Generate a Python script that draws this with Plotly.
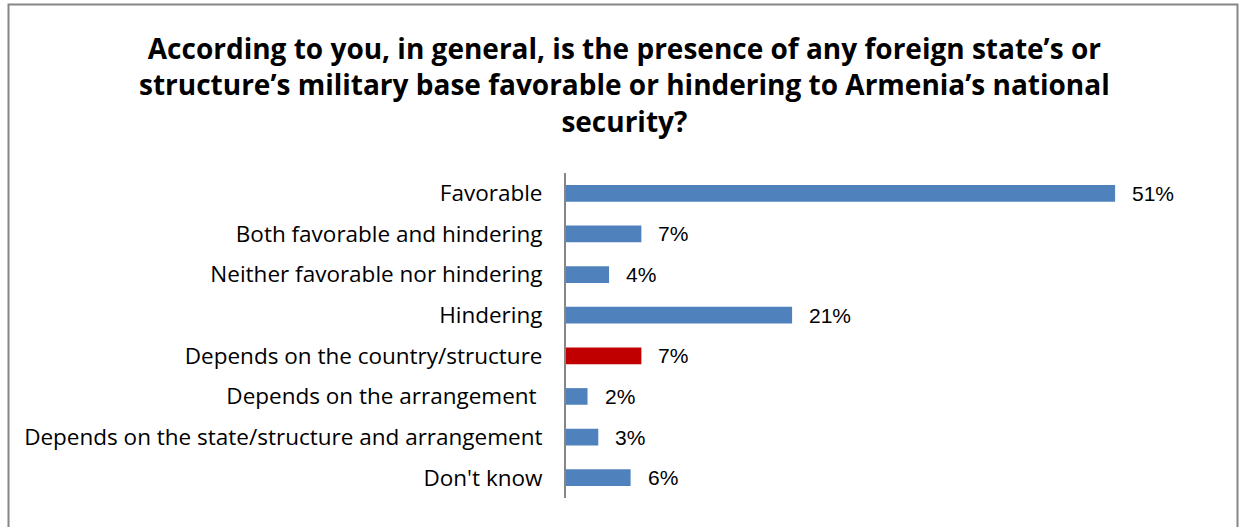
import plotly.graph_objects as go

# Survey answers, top to bottom as listed
categories = [
    "Favorable",
    "Both favorable and hindering",
    "Neither favorable nor hindering",
    "Hindering",
    "Depends on the country/structure",
    "Depends on the arrangement ",
    "Depends on the state/structure and arrangement",
    "Don't know",
]
shares = [0.51, 0.07, 0.04, 0.21, 0.07, 0.02, 0.03, 0.06]
value_labels = ["51%", "7%", "4%", "21%", "7%", "2%", "3%", "6%"]
bar_colors = ["#4F81BD", "#4F81BD", "#4F81BD", "#4F81BD",
              "#C00000", "#4F81BD", "#4F81BD", "#4F81BD"]

title_text = ("According to you, in general, is the presence of any foreign state’s or<br>"
              "structure’s military base favorable or hindering to Armenia’s national<br>"
              "security?")

W, H = 1241, 527
L, R, T, B = 566, 29, 173, 29

fig = go.Figure()
fig.add_trace(go.Bar(
    x=shares,
    y=categories,
    orientation="h",
    marker=dict(color=bar_colors, line=dict(width=0)),
    hoverinfo="skip",
))

# Percentage labels placed just past each bar end
for cat, val, lab in zip(categories, shares, value_labels):
    fig.add_annotation(
        x=val, y=cat, text=lab, showarrow=False,
        xanchor="left", yanchor="middle", xshift=15,
        font=dict(family="Liberation Sans, Arial, sans-serif", size=21, color="#000000"),
    )

# Pixel -> paper coordinate helpers
pw = W - L - R
ph = H - T - B
def px_x(px):
    return (px - L) / pw
def px_y(py):
    return 1 + (T - py) / ph

# Chart title
fig.add_annotation(
    x=px_x(624), y=px_y(84), xref="paper", yref="paper",
    text=title_text, showarrow=False, xanchor="center", yanchor="middle",
    align="center",
    font=dict(family="Open Sans, sans-serif", size=28, color="#000000", weight="bold"),
)

# Outer frame around the whole chart
fig.add_shape(
    type="rect", xref="paper", yref="paper",
    x0=px_x(8.5), x1=px_x(1237.5), y0=px_y(540), y1=px_y(4.5),
    line=dict(color="#868686", width=2), fillcolor="rgba(0,0,0,0)", layer="below",
)

fig.update_layout(
    width=W, height=H,
    margin=dict(l=L, r=R, t=T, b=B, pad=0),
    paper_bgcolor="white", plot_bgcolor="white",
    showlegend=False,
    bargap=0.59,
    xaxis=dict(range=[0, 0.6], visible=False, fixedrange=True),
    yaxis=dict(
        autorange="reversed", showgrid=False, zeroline=False,
        showline=True, linecolor="#868686", linewidth=2,
        ticks="", ticklabelstandoff=17,
        tickfont=dict(family="Open Sans, sans-serif", size=22.5, color="#000000"),
        fixedrange=True,
    ),
)

fig.write_html("out.html")
